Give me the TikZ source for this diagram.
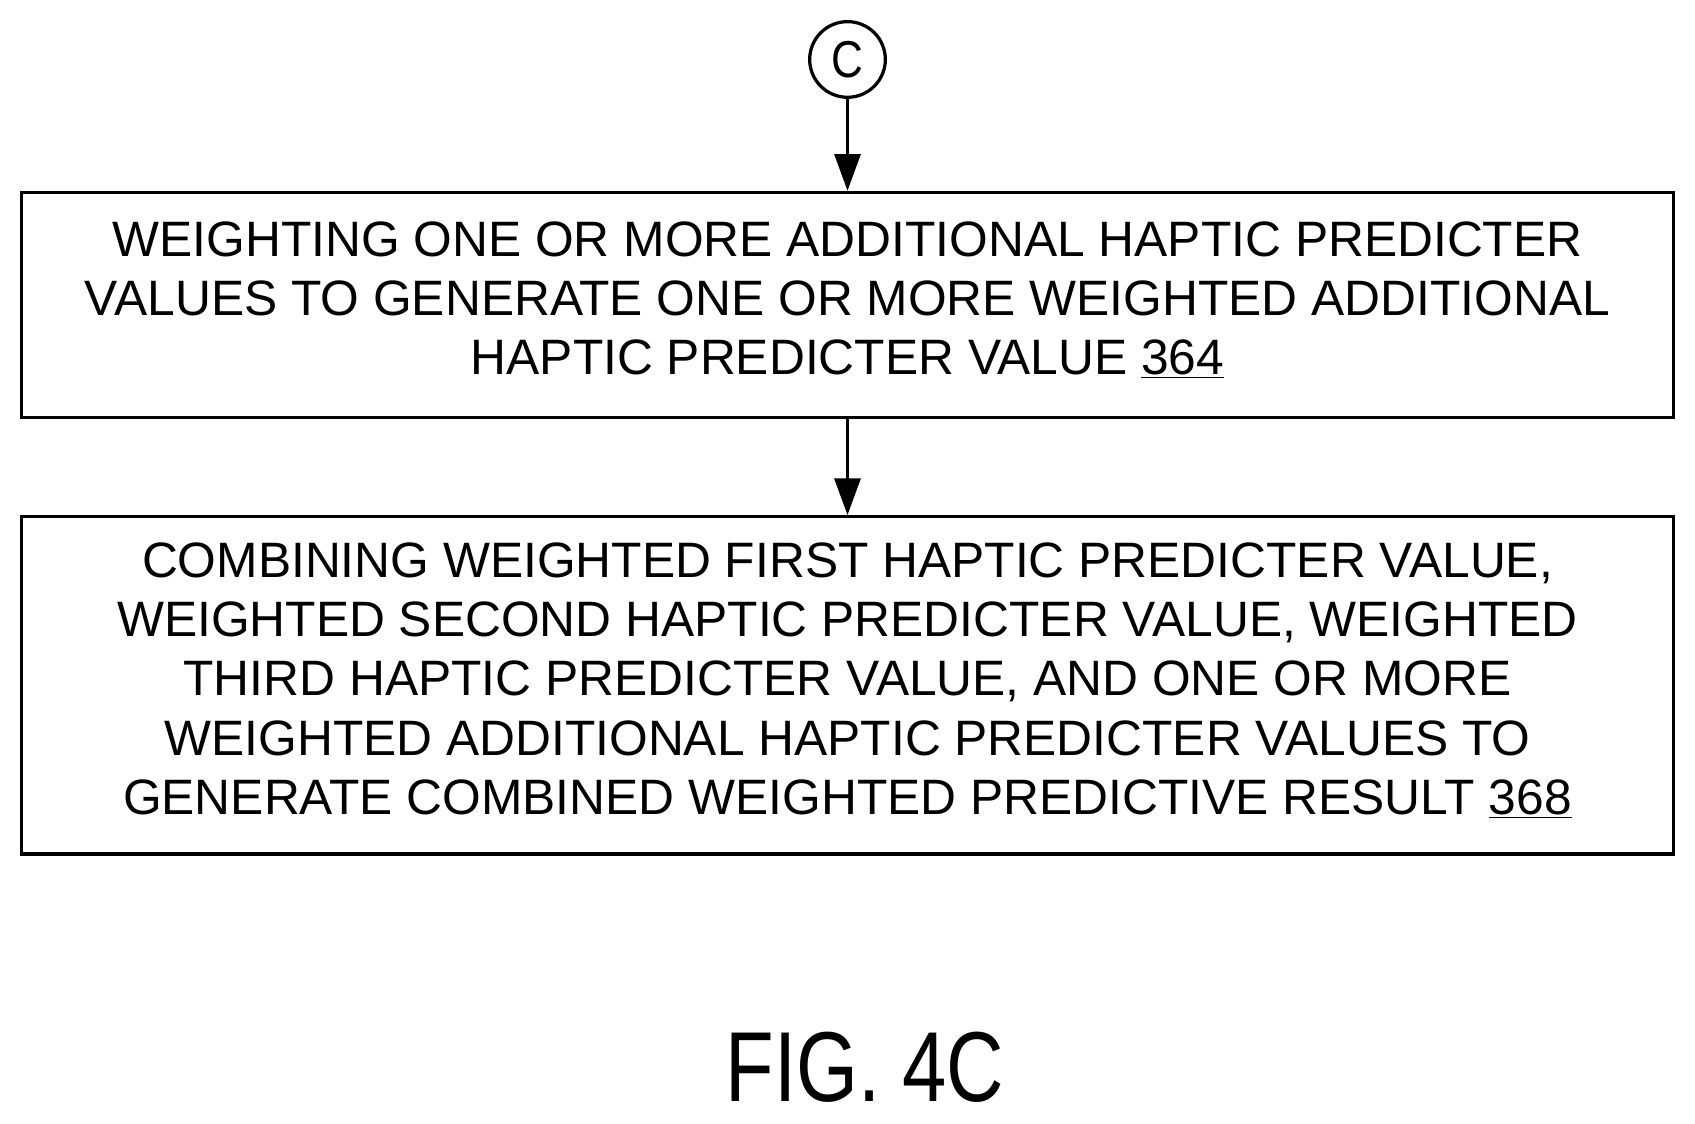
\documentclass[tikz,border=0pt]{standalone}
\usepackage{fontspec}
\setmainfont{Liberation Sans}
\usetikzlibrary{arrows.meta}
\begin{document}
\begin{tikzpicture}[x=1pt,y=-1pt,
  boxs/.style={draw,line width=3pt,minimum width=1528pt,inner sep=0pt},
  txt/.style={align=center,inner sep=0pt,font=\fontsize{46}{55}\selectfont},
  conn/.style={line width=3pt,-{Triangle[length=34pt,width=24pt]}}]
\useasboundingbox (0,0) rectangle (1568,1039);
\node[draw,circle,line width=3pt,minimum size=70pt,inner sep=0pt,font=\fontsize{48}{48}\selectfont] (c) at (784,55) {\scalebox{0.85}[1]{C}};
\node[boxs,minimum height=208pt] (b1) at (784,282) {};
\node[txt] (t1) at (784,277) {WEIGHTING ONE OR MORE ADDITIONAL HAPTIC PREDICTER\\VALUES TO GENERATE ONE OR MORE WEIGHTED ADDITIONAL\\HAPTIC PREDICTER VALUE \underline{364}};
\node[boxs,minimum height=312pt] (b2) at (784,634) {};
\node[txt] (t2) at (784,629) {COMBINING WEIGHTED FIRST HAPTIC PREDICTER VALUE,\\WEIGHTED SECOND HAPTIC PREDICTER VALUE, WEIGHTED\\THIRD HAPTIC PREDICTER VALUE, AND ONE OR MORE\\WEIGHTED ADDITIONAL HAPTIC PREDICTER VALUES TO\\GENERATE COMBINED WEIGHTED PREDICTIVE RESULT \underline{368}};
\draw[conn] (c) -- (b1);
\draw[conn] (b1) -- (b2);
\node[font=\fontsize{92}{92}\selectfont] (fig) at (800,987) {\scalebox{0.8}[1]{FIG. 4C}};
\end{tikzpicture}
\end{document}
